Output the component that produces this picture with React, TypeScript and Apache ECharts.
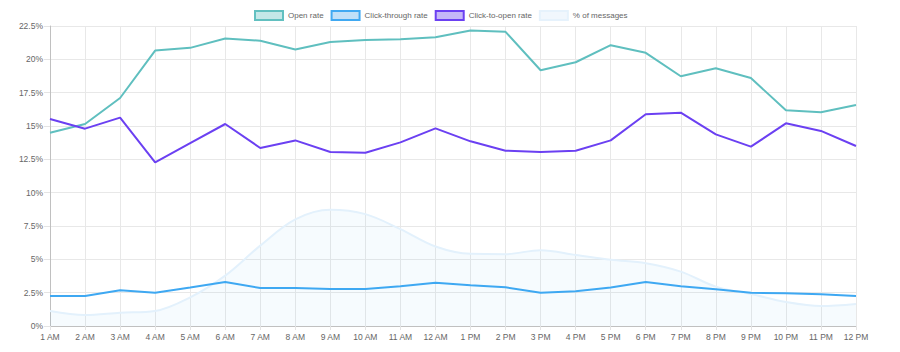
import React, { useEffect, useRef } from "react";
import * as echarts from "echarts";

const hours = [
  "1 AM", "2 AM", "3 AM", "4 AM", "5 AM", "6 AM", "7 AM", "8 AM", "9 AM", "10 AM", "11 AM", "12 AM",
  "1 PM", "2 PM", "3 PM", "4 PM", "5 PM", "6 PM", "7 PM", "8 PM", "9 PM", "10 PM", "11 PM", "12 PM",
];

const openRate = [
  14.5, 15.15, 17.1, 20.66, 20.86, 21.56, 21.4, 20.74, 21.3, 21.45, 21.5, 21.66,
  22.16, 22.06, 19.18, 19.78, 21.06, 20.49, 18.73, 19.33, 18.6, 16.18, 16.03, 16.58,
];

const clickThroughRate = [
  2.25, 2.25, 2.68, 2.5, 2.88, 3.3, 2.85, 2.85, 2.78, 2.78, 2.98, 3.25,
  3.06, 2.9, 2.5, 2.6, 2.88, 3.3, 2.98, 2.75, 2.5, 2.45, 2.38, 2.25,
];

const clickToOpenRate = [
  15.53, 14.8, 15.63, 12.27, 13.72, 15.15, 13.35, 13.92, 13.05, 13.0, 13.77, 14.82,
  13.85, 13.15, 13.05, 13.15, 13.92, 15.88, 16.0, 14.37, 13.45, 15.2, 14.63, 13.5,
];

const messagesShare = [
  1.13, 0.83, 1.0, 1.13, 2.15, 3.78, 6.03, 8.0, 8.72, 8.39, 7.26, 5.96,
  5.41, 5.39, 5.69, 5.33, 4.96, 4.71, 4.08, 2.95, 2.4, 1.8, 1.5, 1.65,
];

const FONT = "'Liberation Sans', Arial, Helvetica, sans-serif";

export default function App() {
  const ref = useRef<HTMLDivElement>(null);

  useEffect(() => {
    if (!ref.current) return;
    const chart = echarts.init(ref.current, null, { renderer: "svg" });
    chart.setOption({
      animation: false,
      textStyle: { fontFamily: FONT },
      legend: {
        top: 10,
        left: 254,
        padding: 0,
        itemWidth: 28,
        itemHeight: 9,
        itemGap: 7,
        icon: "rect",
        textStyle: { fontSize: 8, color: "#666", fontFamily: FONT },
        data: [
          { name: "Open rate", itemStyle: { color: "#c4e8e8", borderColor: "#62c0c0", borderWidth: 2 } },
          { name: "Click-through rate", itemStyle: { color: "#c0e0f8", borderColor: "#40a9f2", borderWidth: 2 } },
          { name: "Click-to-open rate", itemStyle: { color: "#c5b6f8", borderColor: "#6b40f2", borderWidth: 2 } },
          { name: "% of messages", itemStyle: { color: "#f1f7fd", borderColor: "#e6f2fc", borderWidth: 2 } },
        ],
      },
      grid: { left: 50, right: 44, top: 26, bottom: 26, containLabel: false },
      xAxis: {
        type: "category",
        data: hours,
        boundaryGap: false,
        axisLine: { lineStyle: { color: "#c0c0c0", width: 1 } },
        axisTick: { show: true, length: 4, lineStyle: { color: "#e4e4e4" } },
        axisLabel: { fontSize: 8.5, color: "#666", margin: 6, fontFamily: FONT, interval: 0 },
        splitLine: { show: true, lineStyle: { color: "#e8e8e8", width: 1 } },
      },
      yAxis: {
        type: "value",
        min: 0,
        max: 22.5,
        interval: 2.5,
        axisLine: { show: true, lineStyle: { color: "#c0c0c0", width: 1 } },
        axisTick: { show: true, length: 6, lineStyle: { color: "#e4e4e4" } },
        axisLabel: {
          fontSize: 8.5,
          color: "#666",
          margin: 7,
          fontFamily: FONT,
          formatter: (v: number) => `${v}%`,
        },
        splitLine: { show: true, lineStyle: { color: "#e8e8e8", width: 1 } },
      },
      series: [
        {
          name: "Open rate",
          type: "line",
          data: openRate,
          symbol: "none",
          z: 4,
          lineStyle: { color: "#5fbfbf", width: 2 },
          itemStyle: { color: "#5fbfbf" },
        },
        {
          name: "Click-through rate",
          type: "line",
          data: clickThroughRate,
          symbol: "none",
          z: 4,
          lineStyle: { color: "#3ea8f2", width: 2 },
          itemStyle: { color: "#3ea8f2" },
        },
        {
          name: "Click-to-open rate",
          type: "line",
          data: clickToOpenRate,
          symbol: "none",
          z: 4,
          lineStyle: { color: "#6b40f2", width: 2 },
          itemStyle: { color: "#6b40f2" },
        },
        {
          name: "% of messages",
          type: "line",
          data: messagesShare,
          symbol: "none",
          smooth: 0.35,
          z: 2,
          lineStyle: { color: "#e3f1fc", width: 2 },
          itemStyle: { color: "#e3f1fc" },
          areaStyle: { color: "rgba(54,162,235,0.06)", origin: "start" },
        },
      ],
    });
    return () => chart.dispose();
  }, []);

  return <div ref={ref} style={{ width: 900, height: 352, margin: -8 }} />;
}
